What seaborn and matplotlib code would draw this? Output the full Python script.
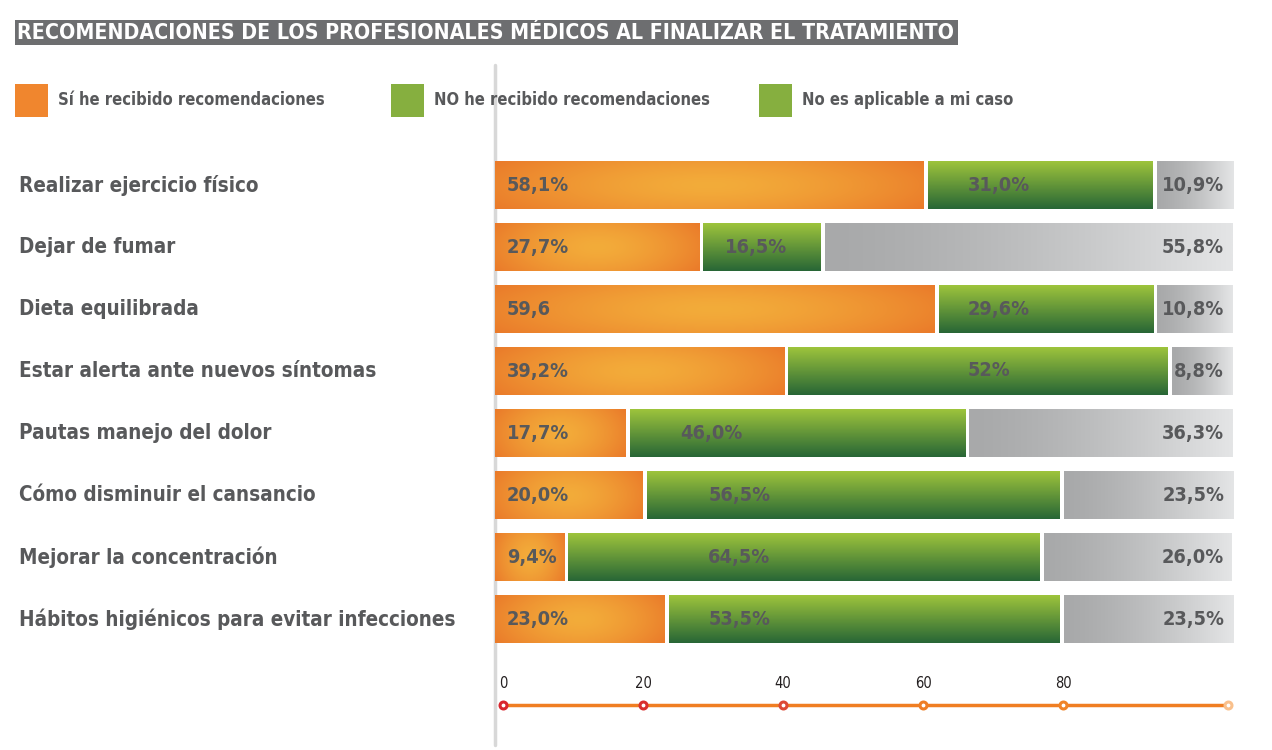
import numpy as np
import pandas as pd
import seaborn as sns
import matplotlib
matplotlib.use("Agg")
import matplotlib.pyplot as plt
from matplotlib import transforms
from matplotlib.patches import Rectangle
from matplotlib.lines import Line2D
from matplotlib.colors import to_rgb

# ---------------- data ----------------
categories = [
    "Realizar ejercicio físico",
    "Dejar de fumar",
    "Dieta equilibrada",
    "Estar alerta ante nuevos síntomas",
    "Pautas manejo del dolor",
    "Cómo disminuir el cansancio",
    "Mejorar la concentración",
    "Hábitos higiénicos para evitar infecciones",
]
si_values = [58.1, 27.7, 59.6, 39.2, 17.7, 20.0, 9.4, 23.0]
no_values = [31.0, 16.5, 29.6, 52.0, 46.0, 56.5, 64.5, 53.5]
na_values = [10.9, 55.8, 10.8, 8.8, 36.3, 23.5, 26.0, 23.5]
si_labels = ["58,1%", "27,7%", "59,6", "39,2%", "17,7%", "20,0%", "9,4%", "23,0%"]
no_labels = ["31,0%", "16,5%", "29,6%", "52%", "46,0%", "56,5%", "64,5%", "53,5%"]
na_labels = ["10,9%", "55,8%", "10,8%", "8,8%", "36,3%", "23,5%", "26,0%", "23,5%"]
legend_labels = ["Sí he recibido recomendaciones",
                 "NO he recibido recomendaciones",
                 "No es aplicable a mi caso"]
axis_ticks = [0, 20, 40, 60, 80]
axis_end = 103.5
title = "RECOMENDACIONES DE LOS PROFESIONALES MÉDICOS AL FINALIZAR EL TRATAMIENTO"

# label anchor positions for the green segment text (style only)
no_label_x = [64.1, 31.2, 64.1, 64.1, 25.1, 28.9, 28.9, 28.9]

# ---------------- style ----------------
W, H = 1272, 750
TXT = "#58595B"
FONT = "DejaVu Sans"
sns.set_theme(style="white")
plt.rcParams["font.family"] = [FONT]

fig = plt.figure(figsize=(W / 100, H / 100), dpi=100)
fig.patch.set_facecolor("white")

# main axes: bars 495..1233 px, rows 154..650 px
ax = fig.add_axes([495 / W, 1 - 650 / H, 738 / W, 496 / H])

df = pd.DataFrame({
    "cat": categories,
    "total": np.array(si_values) + np.array(no_values) + np.array(na_values),
    "cum": np.array(si_values) + np.array(no_values),
    "si": si_values,
})
BW = 0.76
sns.barplot(data=df, y="cat", x="total", orient="h", color="#A8A8A8", width=BW, ax=ax)
sns.barplot(data=df, y="cat", x="cum", orient="h", color="#86AF3F", width=BW, ax=ax)
sns.barplot(data=df, y="cat", x="si", orient="h", color="#F0862E", width=BW, ax=ax)

tot_p, cum_p, si_p = ax.containers[0], ax.containers[1], ax.containers[2]
for c in ax.containers:
    for p in c:
        p.set_alpha(0)


def lerp(c1, c2, t):
    a = np.array(to_rgb(c1)); b = np.array(to_rgb(c2))
    return a[None, None, :] * (1 - t[..., None]) + b[None, None, :] * t[..., None]


def orange_img():
    x = np.linspace(0, 1, 200); y = np.linspace(0, 1, 30)
    X, Y = np.meshgrid(x, y)
    r = np.sqrt(((X - 0.5) / 0.58) ** 2 + ((Y - 0.5) / 1.0) ** 2)
    t = np.clip(r, 0, 1) ** 1.5
    return lerp("#F3AC3A", "#EA7A2A", t)


def green_img():
    y = np.linspace(0, 1, 60)
    t = np.tile(y[:, None], (1, 10))
    return lerp("#9DC43C", "#286636", t)


def gray_img():
    x = np.linspace(0, 1, 100)
    t = np.tile(x[None, :], (10, 1)) ** 1.4
    return lerp("#A8A9AA", "#E4E5E6", t)


GAP = 0.55
for i in range(len(categories)):
    p_si, p_cum, p_tot = si_p[i], cum_p[i], tot_p[i]
    yc = p_si.get_y() + p_si.get_height() / 2
    h = p_si.get_height()
    y0, y1 = yc - h / 2, yc + h / 2
    x_si = p_si.get_width()
    x_cum = p_cum.get_width()
    x_tot = p_tot.get_width()
    ax.imshow(orange_img(), extent=(0, x_si, y1, y0), origin="upper",
              aspect="auto", interpolation="bilinear", zorder=2)
    ax.imshow(green_img(), extent=(x_si + GAP, x_cum, y1, y0), origin="upper",
              aspect="auto", interpolation="bilinear", zorder=2)
    ax.imshow(gray_img(), extent=(x_cum + GAP, x_tot, y1, y0), origin="upper",
              aspect="auto", interpolation="bilinear", zorder=2)
    kw = dict(va="center", fontsize=14.3, fontweight="bold", color=TXT,
              fontstretch="condensed", zorder=3)
    ax.text(1.6, yc, si_labels[i], ha="left", **kw)
    ax.text(no_label_x[i], yc, no_labels[i], ha="left", **kw)
    ax.text(98.8, yc, na_labels[i], ha="right", **kw)

ax.set_xlim(0, 100)
ax.set_ylim(len(categories) - 0.5, -0.5)
ax.set_xticks([]); ax.set_yticks([])
ax.set_xlabel(""); ax.set_ylabel("")
for s in ax.spines.values():
    s.set_visible(False)
ax.patch.set_alpha(0)

# category labels at fixed figure x
tr = transforms.blended_transform_factory(fig.transFigure, ax.transData)
for i, cat in enumerate(categories):
    ax.text(19 / W, i, cat, transform=tr, ha="left", va="center", fontsize=14.8,
            fontweight="bold", color=TXT, fontstretch="condensed", clip_on=False)

# vertical divider line
fig.add_artist(Line2D([495 / W, 495 / W], [1 - 65 / H, 1 - 745 / H],
                      transform=fig.transFigure, color="#D8D8D8", lw=2.5, zorder=0))

# title box + text
fig.add_artist(Rectangle((15 / W, 1 - 45 / H), 943 / W, 25 / H,
                         transform=fig.transFigure, fc="#6D6E70", ec="none"))
fig.text(17 / W, 1 - 33 / H, title, ha="left", va="center", fontsize=15.3,
         fontweight="bold", color="white", fontstretch="condensed")

# legend
leg_colors = ["#F0862E", "#86AF3F", "#86AF3F"]
leg_x = [15, 391, 759]
for lx, lc, lab in zip(leg_x, leg_colors, legend_labels):
    fig.add_artist(Rectangle((lx / W, 1 - 117 / H), 33 / W, 33 / H,
                             transform=fig.transFigure, fc=lc, ec="none"))
    fig.text((lx + 43) / W, 1 - 100 / H, lab, ha="left", va="center",
             fontsize=11.9, fontweight="bold", color=TXT, fontstretch="condensed")

# decorative bottom axis: 0 at 503 px, 7 px per unit
ax2 = fig.add_axes([503 / W, 1 - 720 / H, axis_end * 7 / W, 30 / H])
ax2.set_xlim(0, axis_end)
ax2.set_ylim(-1, 1)
ax2.axis("off")
pts = axis_ticks + [axis_end]
ax2.plot([0, axis_end], [0, 0], color="#F07E22", lw=2.5, zorder=1, clip_on=False)
mcols = ["#D9262E", "#D9302E", "#DD4A36", "#EE7E25", "#F08326", "#F9C08C"]
for v, mc in zip(pts, mcols):
    ax2.plot([v], [0], marker="o", ms=5, mfc="white", mec=mc, mew=2.2,
             zorder=2, clip_on=False)
for v in axis_ticks:
    ax2.text(v, 0.9, str(v), ha="center", va="bottom", fontsize=10.5,
             color="#231F20", fontstretch="condensed", clip_on=False)

fig.savefig("out.png", dpi=100, facecolor="white")
